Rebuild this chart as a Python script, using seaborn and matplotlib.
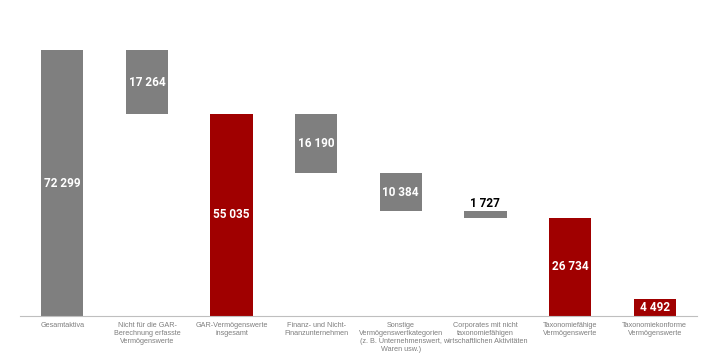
import matplotlib
matplotlib.use("Agg")
import matplotlib.pyplot as plt
import seaborn as sns
import pandas as pd
import numpy as np

categories = [
    "Gesamtaktiva",
    "Nicht für die GAR-\nBerechnung erfasste\nVermögenswerte",
    "GAR-Vermögenswerte\ninsgesamt",
    "Finanz- und Nicht-\nFinanzunternehmen",
    "Sonstige\nVermögenswertkategorien\n(z. B. Unternehmenswert,\nWaren usw.)",
    "Corporates mit nicht\ntaxonomiefähigen\nwirtschaftlichen Aktivitäten",
    "Taxonomiefähige\nVermögenswerte",
    "Taxonomiekonforme\nVermögenswerte",
]
values = [72299, 17264, 55035, 16190, 10384, 1727, 26734, 4492]
kinds = ["total", "step", "total", "step", "step", "step", "total", "total"]
value_labels = ["72 299", "17 264", "55 035", "16 190", "10 384", "1 727", "26 734", "4 492"]

GREY = "#7F7F7F"
RED = "#A00000"
colors = [GREY, GREY, RED, GREY, GREY, GREY, RED, RED]

# waterfall bottoms
bottoms = []
running = 0
for v, k in zip(values, kinds):
    if k == "total":
        bottoms.append(0)
        running = v
    else:
        running -= v
        bottoms.append(running)

df = pd.DataFrame({"cat": categories, "val": values})

sns.set_style("white")
plt.rcParams["font.family"] = ["Liberation Sans", "DejaVu Sans"]
fig = plt.figure(figsize=(7.07, 3.54), dpi=100)
ax = fig.add_axes([20 / 707, 1 - 316 / 354, (697 - 20) / 707, (316 - 22) / 354])

sns.barplot(data=df, x="cat", y="val", hue="cat", palette=colors, legend=False,
            width=0.5, ax=ax, saturation=1, edgecolor="none")

for i, p in enumerate(ax.patches[:len(values)]):
    p.set_y(bottoms[i])
    p.set_height(values[i])

for i, (v, b, lab) in enumerate(zip(values, bottoms, value_labels)):
    if v < 3000 and kinds[i] == "step":
        ax.text(i, b + v + 500, lab, ha="center", va="bottom", color="black",
                fontsize=8.5, fontweight="bold", family=["Roboto", "DejaVu Sans"])
    else:
        ax.text(i, b + v / 2, lab, ha="center", va="center", color="white",
                fontsize=8.5, fontweight="bold", family=["Roboto", "DejaVu Sans"])

ax.set_ylim(0, 80000)
ax.set_xlim(-0.5, len(values) - 0.5)
ax.set_yticks([])
ax.set_xlabel("")
ax.set_ylabel("")
for s in ["top", "right", "left"]:
    ax.spines[s].set_visible(False)
ax.spines["bottom"].set_color("#BFBFBF")
ax.spines["bottom"].set_linewidth(0.8)

ax.set_xticks(range(len(categories)))
ax.set_xticklabels(categories, fontsize=5.2, color="#7F7F7F", linespacing=1.22, va="top")
ax.tick_params(axis="x", which="major", length=0, pad=4)
ax.set_xticks(np.arange(-0.5, len(values)), minor=True)
ax.tick_params(axis="x", which="minor", length=3, color="#BFBFBF", width=0.8, direction="out")

fig.savefig("out.png", dpi=100)
